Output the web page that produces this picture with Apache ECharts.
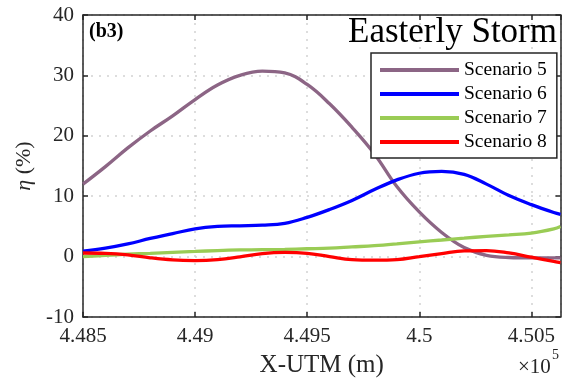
<!DOCTYPE html>
<html><head><meta charset="utf-8">
<script src="https://cdn.jsdelivr.net/npm/echarts@6/dist/echarts.min.js"></script>
<style>html,body{margin:0;padding:0;background:#fff}#c{width:562px;height:383px}</style>
</head><body><div id="c"></div>
<script>
// X-UTM positions (m)
const xUTM = [448500,448600,448700,448800,448900,449000,449100,449200,449300,449400,449500,
              449600,449700,449800,449900,450000,450100,450200,450300,450400,450500,450600,450630];
const scenario5 = [12.0,14.9,18.0,20.8,23.3,26.0,28.4,30.0,30.7,30.4,28.5,25.3,21.4,17.0,11.6,7.4,4.0,1.5,0.2,-0.15,-0.2,-0.2,-0.2];
const scenario6 = [0.9,1.4,2.1,3.0,3.8,4.6,5.0,5.1,5.2,5.5,6.5,7.8,9.3,11.1,12.7,13.8,14.1,13.6,12.0,10.1,8.6,7.3,7.0];
const scenario7 = [0.0,0.2,0.4,0.55,0.7,0.85,1.0,1.1,1.15,1.2,1.3,1.4,1.6,1.8,2.1,2.45,2.75,3.05,3.35,3.6,3.9,4.6,5.0];
const scenario8 = [0.6,0.55,0.3,-0.2,-0.55,-0.65,-0.5,-0.05,0.5,0.7,0.55,0.0,-0.5,-0.6,-0.5,0.0,0.5,0.95,1.0,0.6,-0.1,-0.8,-1.0];
const seriesNames = ['Scenario 5','Scenario 6','Scenario 7','Scenario 8'];
const seriesColors = ['#8c6585','#0000ff','#9acc55','#ff0000'];
const xMin = 448500, xMax = 450630, xStep = 500;
const yMin = -10, yMax = 40, yStep = 10;

const FONT = 'Liberation Serif';
const AX = '#262626';
const chart = echarts.init(document.getElementById('c'), null, {renderer:'canvas'});
const pair = a => a.map((v,i)=>[xUTM[i], v]);
const allData = [scenario5, scenario6, scenario7, scenario8];

const axisLine = {show:true, onZero:false, lineStyle:{color:AX, width:1.5}};
const axisTick = {show:true, inside:true, length:5, lineStyle:{color:AX, width:1.5}};
const splitLine = {show:true, lineStyle:{type:[2,6], color:'#d2d2d2', width:1.5}};
const xFmt = v => (Math.abs((v - xMin) % xStep) < 1e-6 ? String(parseFloat((v/1e5).toFixed(4))) : '');

chart.setOption({
  animation:false,
  backgroundColor:'#fff',
  grid:{left:83, top:15, right:1.5, bottom:65, containLabel:false},
  xAxis:[
    {type:'value', position:'bottom', min:xMin, max:xMax, interval:xStep,
     axisLine, axisTick, splitLine,
     axisLabel:{formatter:xFmt, fontFamily:FONT, fontSize:21, color:AX, margin:9, showMaxLabel:false},
     name:'X-UTM (m)', nameLocation:'middle', nameGap:36,
     nameTextStyle:{fontFamily:FONT, fontSize:25, color:AX}},
    {type:'value', position:'top', min:xMin, max:xMax, interval:xStep,
     axisLine, axisTick, axisLabel:{show:false}, splitLine:{show:false}}
  ],
  yAxis:[
    {type:'value', position:'left', min:yMin, max:yMax, interval:yStep,
     axisLine, axisTick, splitLine,
     axisLabel:{fontFamily:FONT, fontSize:21, color:AX, margin:9},
     name:'{i|η} (%)', nameLocation:'middle', nameGap:30,
     nameTextStyle:{fontFamily:FONT, fontSize:22, color:AX,
       rich:{i:{fontFamily:FONT, fontStyle:'italic', fontSize:22, color:AX}}}},
    {type:'value', position:'right', min:yMin, max:yMax, interval:yStep,
     axisLine, axisTick, axisLabel:{show:false}, splitLine:{show:false}}
  ],
  legend:{
    orient:'vertical', left:371, top:53,
    padding:[7,10,6,9], itemGap:4, itemWidth:79, itemHeight:4,
    icon:'rect',
    backgroundColor:'#fff', borderColor:AX, borderWidth:1.5,
    textStyle:{fontFamily:FONT, fontSize:19.5, lineHeight:19, color:'#000'},
    data:seriesNames
  },
  graphic:[
    {type:'text', left:89, top:22, z:10,
     style:{text:'(b3)', fontFamily:FONT, fontWeight:'bold', fontSize:20, fill:'#000'}},
    {type:'text', right:5, top:15, z:10,
     style:{text:'Easterly Storm', fontFamily:FONT, fontSize:35, fill:'#000'}},
    {type:'text', left:518, top:357, z:10,
     style:{text:'×10', fontFamily:FONT, fontSize:21, fill:AX}},
    {type:'text', left:552, top:348, z:10,
     style:{text:'5', fontFamily:FONT, fontSize:14, fill:AX}}
  ],
  series: allData.map((d,i)=>({
    name:seriesNames[i], type:'line', data:pair(d),
    xAxisIndex:0, yAxisIndex:0,
    showSymbol:false, symbol:'none', smooth:0.4,
    lineStyle:{color:seriesColors[i], width:3.3},
    itemStyle:{color:seriesColors[i]},
    z:2+i
  }))
});
</script>
</body></html>
